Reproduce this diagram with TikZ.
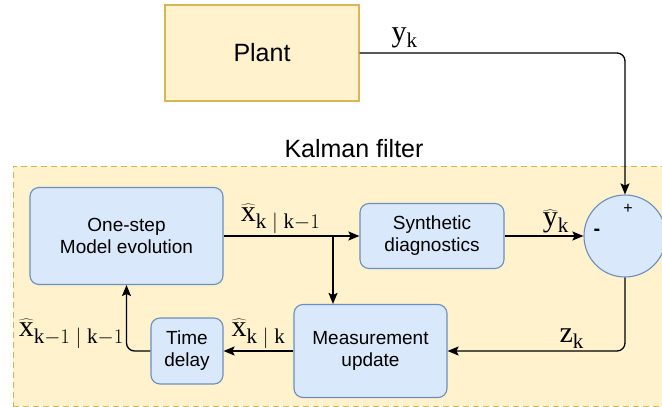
\documentclass[tikz,border=0pt]{standalone}
\usepackage{fontspec}
\setmainfont{Liberation Sans}
\setmathrm{Liberation Serif}
\usetikzlibrary{arrows.meta,positioning}
\definecolor{plantfill}{HTML}{FFF2CC}
\definecolor{plantline}{HTML}{D6B656}
\definecolor{blockfill}{HTML}{DAE8FC}
\definecolor{blockline}{HTML}{6C8EBF}

\begin{document}
\begin{tikzpicture}[x=1pt,y=-1pt,
  block/.style={draw=blockline,fill=blockfill,line width=1.1pt,rounded corners=9pt,align=center,font=\fontsize{19}{22}\selectfont,inner sep=0pt},
  edge/.style={-{Stealth[length=11pt,width=9pt,inset=2pt]},line width=1.3pt},
  lab/.style={font=\fontsize{30}{30}\selectfont,inner sep=2pt}]
\useasboundingbox (0,0) rectangle (662,407);
\clip (0,0) rectangle (662,407);
\node[draw=plantline,fill=plantfill,line width=1.1pt,minimum width=194pt,minimum height=96pt,font=\fontsize{25}{25}\selectfont] (plant) at (262,53) {Plant};
\node[draw=plantline,fill=plantfill,line width=0.9pt,dash pattern=on 6pt off 4pt,minimum width=657pt,minimum height=240pt] (filter) at (341.5,286) {};
\node[font=\fontsize{25}{25}\selectfont] (kflab) at (354,149) {Kalman filter};
\node[block,minimum width=193pt,minimum height=97pt] (model) at (126.5,236) {One-step\\Model evolution};
\node[block,minimum width=144pt,minimum height=65pt] (synth) at (432,236) {Synthetic\\diagnostics};
\node[circle,draw=blockline,fill=blockfill,line width=1.1pt,minimum size=82pt,inner sep=0pt] (sum) at (625,236) {};
\node[font=\fontsize{16}{16}\selectfont] (plus) at (628,209) {+};
\node[font=\bfseries\fontsize{20}{20}\selectfont] (minus) at (597,232) {-};
\node[block,minimum width=153pt,minimum height=93pt] (meas) at (370.5,351) {Measurement\\update};
\node[block,minimum width=72pt,minimum height=66pt] (delay) at (187,351) {Time\\delay};
\coordinate (split) at (333,236);
\draw[edge,rounded corners=8pt] (plant.east) -| node[lab,above,pos=0.085,inner sep=4pt] {$\mathrm{y}_\mathrm{k}$} (sum.north);
\draw[edge] (model.east) -- node[lab,above,pos=0.42] {$\widehat{\mathrm{x}}_{\mathrm{k}\;|\;\mathrm{k}-1}$} (synth.west);
\draw[edge] (split) -- (split |- meas.north);
\draw[edge] (synth.east) -- node[lab,above,pos=0.65] {$\widehat{\mathrm{y}}_\mathrm{k}$} (sum.west);
\draw[edge,rounded corners=8pt] (sum.south) |- node[lab,above,pos=0.65] {$\mathrm{z}_\mathrm{k}$} (meas.east);
\draw[edge] (meas.west) -- node[lab,above] {$\widehat{\mathrm{x}}_{\mathrm{k}\;|\;\mathrm{k}}$} (delay.east);
\draw[edge,rounded corners=8pt] (delay.west) -| node[lab,above left,pos=0.5] {$\widehat{\mathrm{x}}_{\mathrm{k}-1\;|\;\mathrm{k}-1}$} (model.south);
\end{tikzpicture}
\end{document}
